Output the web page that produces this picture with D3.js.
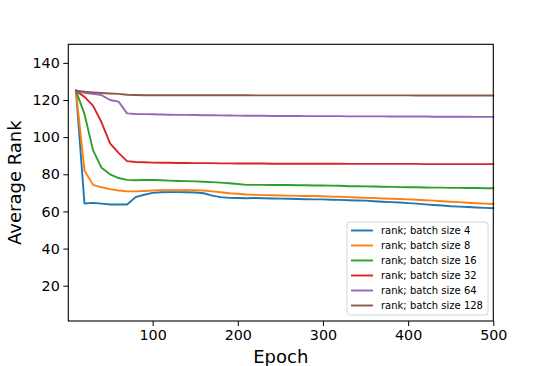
<!DOCTYPE html>
<html>
<head>
<meta charset="utf-8">
<script src="https://cdn.jsdelivr.net/npm/d3@7"></script>
<style>
  body { margin: 0; background: #fff; }
  svg { font-family: "DejaVu Sans", sans-serif; }
</style>
</head>
<body>
<svg id="chart" width="548" height="366"></svg>
<script>
// epochs (x values)
var epochs = [10, 20, 30, 40, 50, 60, 70, 80, 90, 100,
  110, 120, 130, 140, 150, 160, 170, 180, 190, 200,
  210, 220, 230, 240, 250, 260, 270, 280, 290, 300,
  310, 320, 330, 340, 350, 360, 370, 380, 390, 400,
  410, 420, 430, 440, 450, 460, 470, 480, 490, 500];

var batchSizes = [4, 8, 16, 32, 64, 128];
var colors = ["#1f77b4", "#ff7f0e", "#2ca02c", "#d62728", "#9467bd", "#8c564b"];

var rank4 = [125, 64.3, 64.6, 64.2, 63.7, 63.7, 63.7, 67.7, 69, 70,
  70.3, 70.4, 70.4, 70.3, 70.2, 69.8, 68.5, 67.7, 67.3, 67.2,
  67.1, 67.2, 67.1, 67, 66.9, 66.8, 66.7, 66.6, 66.5, 66.5,
  66.3, 66.2, 66, 65.9, 65.8, 65.5, 65.2, 65, 64.8, 64.5,
  64.2, 63.8, 63.5, 63.2, 62.8, 62.6, 62.4, 62.1, 61.9, 61.7];

var rank8 = [125, 82, 74.3, 73, 72, 71.3, 70.8, 70.8, 71, 71.3,
  71.5, 71.5, 71.5, 71.4, 71.4, 71.3, 70.8, 70.3, 69.8, 69.5,
  69.1, 68.9, 68.8, 68.7, 68.6, 68.5, 68.4, 68.3, 68.3, 68.2,
  68, 67.9, 67.7, 67.5, 67.3, 67.2, 67, 66.8, 66.7, 66.5,
  66.3, 66, 65.8, 65.5, 65.2, 65, 64.7, 64.4, 64.2, 64];

var rank16 = [125, 112.5, 93, 83.5, 80, 78, 77, 76.8, 76.9, 77,
  76.8, 76.6, 76.4, 76.3, 76.2, 76, 75.8, 75.5, 75.2, 74.8,
  74.3, 74.3, 74.3, 74.2, 74.2, 74.2, 74.1, 74.1, 74, 74,
  73.9, 73.8, 73.6, 73.6, 73.5, 73.4, 73.3, 73.2, 73.1, 73,
  73, 72.9, 72.8, 72.8, 72.7, 72.7, 72.6, 72.6, 72.5, 72.5];

var rank32 = [125, 121.7, 117, 108, 96.6, 91.5, 87.1, 86.6, 86.5, 86.3,
  86.2, 86.2, 86.1, 86.1, 86, 86, 86, 85.9, 85.9, 85.8,
  85.8, 85.8, 85.8, 85.7, 85.7, 85.7, 85.7, 85.7, 85.7, 85.7,
  85.7, 85.7, 85.6, 85.6, 85.6, 85.6, 85.6, 85.6, 85.6, 85.6,
  85.6, 85.5, 85.5, 85.5, 85.5, 85.5, 85.5, 85.5, 85.5, 85.5];

var rank64 = [125, 123.8, 123.4, 122.6, 120, 119.1, 112.8, 112.5, 112.4, 112.3,
  112.2, 112.1, 112, 112, 111.9, 111.8, 111.8, 111.7, 111.7, 111.6,
  111.5, 111.5, 111.5, 111.4, 111.4, 111.4, 111.4, 111.3, 111.3, 111.3,
  111.3, 111.3, 111.2, 111.2, 111.2, 111.2, 111.2, 111.1, 111.1, 111.1,
  111.1, 111.1, 111, 111, 111, 111, 111, 110.9, 110.9, 110.9];

var rank128 = [125, 124.5, 124.1, 123.8, 123.5, 123.3, 122.8, 122.7, 122.6, 122.6,
  122.6, 122.6, 122.6, 122.6, 122.6, 122.6, 122.6, 122.6, 122.6, 122.6,
  122.6, 122.5, 122.5, 122.5, 122.5, 122.5, 122.5, 122.5, 122.5, 122.5,
  122.5, 122.5, 122.5, 122.5, 122.5, 122.5, 122.5, 122.5, 122.5, 122.5,
  122.4, 122.4, 122.4, 122.4, 122.4, 122.4, 122.4, 122.4, 122.4, 122.4];

var series = [rank4, rank8, rank16, rank32, rank64, rank128];

var xTicks = [100, 200, 300, 400, 500];
var yTicks = [20, 40, 60, 80, 100, 120, 140];

var svg = d3.select("#chart");
var margin = {left: 68.3, top: 44.3, right: 54.7, bottom: 45};
var width = 548 - margin.left - margin.right,
    height = 366 - margin.top - margin.bottom;

var x = d3.scaleLinear().domain([1, 500]).range([0, width]);
var y = d3.scaleLinear().domain([1, 150]).range([height, 0]);

var g = svg.append("g")
  .attr("transform", "translate(" + margin.left + "," + margin.top + ")");

// lines
var line = d3.line()
  .x(function(d, i) { return x(epochs[i]); })
  .y(function(d) { return y(d); });

g.append("g")
  .selectAll("path")
  .data(series)
  .enter().append("path")
  .attr("fill", "none")
  .attr("stroke", function(d, i) { return colors[i]; })
  .attr("stroke-width", 1.9)
  .attr("stroke-linejoin", "round")
  .attr("stroke-linecap", "square")
  .attr("d", line);

// axes
var xAxis = g.append("g")
  .attr("transform", "translate(0," + height + ")")
  .call(d3.axisBottom(x).tickValues(xTicks).tickSize(5).tickPadding(4));
var yAxis = g.append("g")
  .call(d3.axisLeft(y).tickValues(yTicks).tickSize(5).tickPadding(3.5));

[xAxis, yAxis].forEach(function(a) {
  a.select(".domain").remove();
  a.selectAll("text").attr("font-size", 14.3).attr("fill", "#000")
    .attr("font-family", "DejaVu Sans");
  a.selectAll("line").attr("stroke", "#000").attr("stroke-width", 1);
});

// frame
g.append("rect")
  .attr("width", width)
  .attr("height", height)
  .attr("fill", "none")
  .attr("stroke", "#000")
  .attr("stroke-width", 1.1);

// axis labels
svg.append("text")
  .attr("x", margin.left + width / 2)
  .attr("y", 363)
  .attr("text-anchor", "middle")
  .attr("font-size", 18)
  .text("Epoch");

svg.append("text")
  .attr("transform", "translate(21," + (margin.top + height / 2) + ") rotate(-90)")
  .attr("text-anchor", "middle")
  .attr("font-size", 18)
  .text("Average Rank");

// legend
var legend = svg.append("g").attr("transform", "translate(347,222)");
legend.append("rect")
  .attr("width", 141)
  .attr("height", 93)
  .attr("rx", 3)
  .attr("fill", "#fff")
  .attr("fill-opacity", 0.8)
  .attr("stroke", "#d6d6d6")
  .attr("stroke-width", 1);

var item = legend.selectAll(".item")
  .data(batchSizes)
  .enter().append("g")
  .attr("transform", function(d, i) { return "translate(0," + (8.5 + i * 15) + ")"; });

item.append("line")
  .attr("x1", 4).attr("x2", 26)
  .attr("stroke", function(d, i) { return colors[i]; })
  .attr("stroke-width", 1.9);

item.append("text")
  .attr("x", 34)
  .attr("dy", "0.35em")
  .attr("font-size", 10)
  .text(function(d) { return "rank; batch size " + d; });
</script>
</body>
</html>
